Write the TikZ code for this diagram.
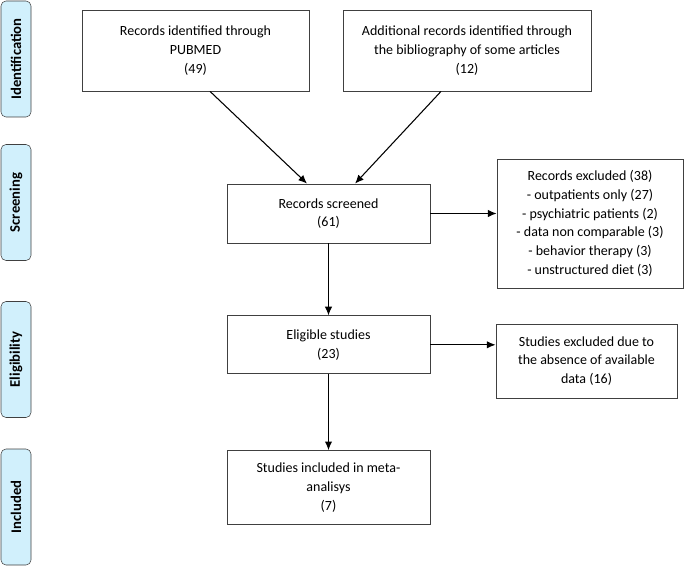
\documentclass[tikz,border=0pt]{standalone}
\usepackage{fontspec}
\setmainfont{Carlito}
\usepackage{tikz}
\usetikzlibrary{arrows.meta,positioning}

\begin{document}
\begin{tikzpicture}
[x=0.75pt, y=-0.75pt, font=\fontsize{10.5}{14}\selectfont,
% STYLES
>={Latex[length=6.5pt,width=5.5pt]},
% The stage style is used for the blue tabs on the left
stage/.style={rectangle, draw=black!75, fill=cyan!18, rounded corners=3.75pt, rotate=90, minimum width=87pt, minimum height=22.5pt, inner sep=0pt, font=\bfseries\fontsize{11}{12}\selectfont},
% The record style is used to draw the boxes of the flow
record/.style={rectangle, draw=black!75, fill=white, align=center, inner sep=3pt, line width=0.6pt}]

\useasboundingbox (0,0) rectangle (685,566);

% Draw stages
\node [stage] (identification) at (16,59) {Identification};
\node [stage] (screening) at (16,202.5) {Screening};
\node [stage] (eligibility) at (16,359.5) {Eligibility};
\node [stage] (inclusion) at (16,507) {Included};

% Draw records
\node [record, minimum width=170.25pt, minimum height=60.75pt] (pubmed) at (195.5,50.5) {Records identified through\\PUBMED\\(49)};
\node [record, minimum width=186pt, minimum height=60.75pt] (biblio) at (467,50.5) {Additional records identified through\\the bibliography of some articles\\(12)};
\node [record, minimum width=152.25pt, minimum height=44.25pt] (screened) at (328.5,213.5) {Records screened\\(61)};
\node [record, minimum width=152.25pt, minimum height=43.5pt, below=54pt of screened] (eligible) {Eligible studies\\(23)};
\node [record, minimum width=152.25pt, minimum height=55.5pt, below=57pt of eligible] (included) {Studies included in meta-\\analisys\\(7)};
\node [record, minimum width=139.5pt, minimum height=96.75pt] (excluded) at (590,223.5) {Records excluded (38)\\- outpatients only (27)\\- psychiatric patients (2)\\- data non comparable (3)\\- behavior therapy (3)\\- unstructured diet (3)};
\node [record, minimum width=135.75pt, minimum height=55.5pt] (absent) at (586.5,361) {Studies excluded due to\\the absence of available\\data (16)};

% Draw the links between records
\draw[->, line width=0.8pt] ([xshift=10.9pt]pubmed.south) -- ([xshift=-16.1pt]screened.north);
\draw[->, line width=0.8pt] ([xshift=-19.5pt]biblio.south) -- ([xshift=19.9pt]screened.north);
\draw[->, line width=0.8pt] (screened.east) -- (screened.east -| excluded.west);
\draw[->, line width=0.8pt] (screened) -- (eligible);
\draw[->, line width=0.8pt] (eligible.east) -- (eligible.east -| absent.west);
\draw[->, line width=0.8pt] (eligible) -- (included);

\end{tikzpicture}
\end{document}
